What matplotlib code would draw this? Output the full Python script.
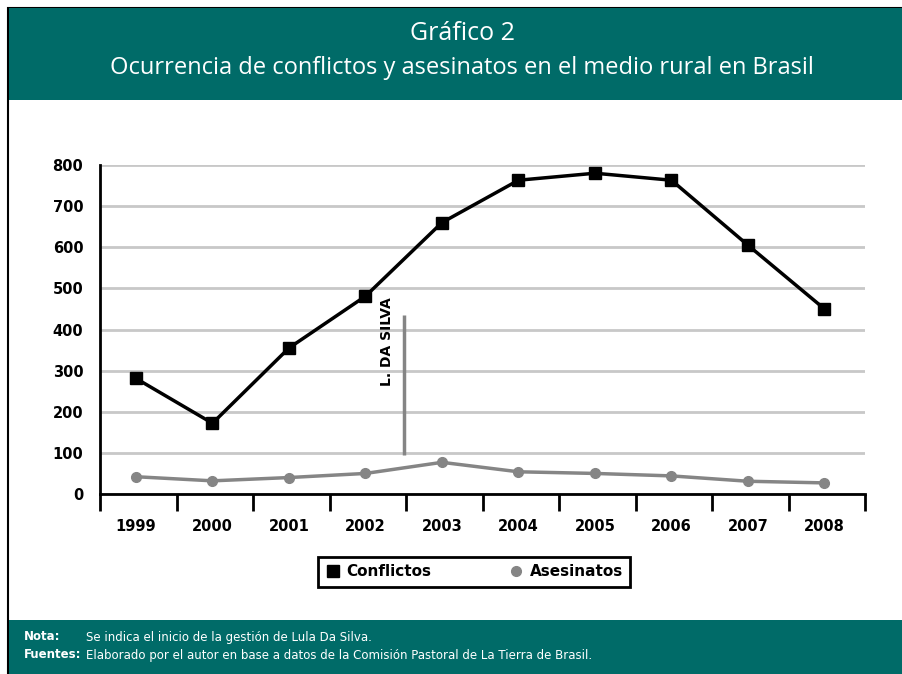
import matplotlib.pyplot as plt
import matplotlib.patches as patches
import numpy as np

years = ['1999', '2000', '2001', '2002', '2003', '2004', '2005', '2006', '2007', '2008']
conflictos = [281, 172, 355, 481, 660, 763, 780, 763, 605, 450]
asesinatos = [42, 32, 40, 50, 77, 54, 50, 44, 31, 27]
marca_pos = 3.5
marca_rango = [95, 435]

teal = '#006b68'
gris = '#858585'

fig = plt.figure(figsize=(9.02, 6.74), dpi=100)

# marco y bandas
fig.patches.append(patches.Rectangle((8 / 902, 0), 1, 1 - 8 / 674, transform=fig.transFigure,
                                     facecolor='white', edgecolor='black', lw=1.5, zorder=-3))
fig.patches.append(patches.Rectangle((9 / 902, 1 - 100 / 674), 1, 92 / 674, transform=fig.transFigure,
                                     facecolor=teal, edgecolor='none', zorder=-2))
fig.patches.append(patches.Rectangle((9 / 902, 0), 1, 54 / 674, transform=fig.transFigure,
                                     facecolor=teal, edgecolor='none', zorder=-2))

fig.text(462 / 902, 1 - 34 / 674, 'Gráfico 2', color='white', fontsize=18,
         family='Open Sans', ha='center', va='center')
fig.text(462 / 902, 1 - 68 / 674, 'Ocurrencia de conflictos y asesinatos en el medio rural en Brasil',
         color='white', fontsize=17, family='Open Sans', ha='center', va='center')

fig.text(24 / 902, 1 - 637 / 674, 'Nota:', color='white', fontsize=8.5, weight='bold', va='center')
fig.text(86 / 902, 1 - 637 / 674, 'Se indica el inicio de la gestión de Lula Da Silva.',
         color='white', fontsize=8.5, va='center')
fig.text(24 / 902, 1 - 655 / 674, 'Fuentes:', color='white', fontsize=8.5, weight='bold', va='center')
fig.text(86 / 902, 1 - 655 / 674,
         'Elaborado por el autor en base a datos de la Comisión Pastoral de La Tierra de Brasil.',
         color='white', fontsize=8.5, va='center')

ax = fig.add_axes([100 / 902, 1 - 494 / 674, 765 / 902, 329 / 674])
ax.patch.set_alpha(0)
x = np.arange(len(years))

ax.plot(x, conflictos, color='black', lw=2.5, marker='s', ms=9, label='Conflictos', zorder=4)
ax.plot(x, asesinatos, color=gris, lw=2.5, marker='o', ms=7, label='Asesinatos', zorder=3)
ax.vlines(marca_pos, marca_rango[0], marca_rango[1], color=gris, lw=2.5, zorder=2)
ax.text(marca_pos - 0.22, 262, 'L. DA SILVA', rotation=90, fontsize=10, weight='bold',
        ha='center', va='bottom')

ax.set_xlim(-0.47, 9.47)
ax.set_ylim(0, 800)
ax.set_yticks(range(0, 801, 100))
ax.yaxis.grid(True, color='#c8c8c8', lw=2)
ax.set_axisbelow(True)
ax.tick_params(axis='y', length=0, pad=12, labelsize=10.5)
for lbl in ax.get_yticklabels():
    lbl.set_fontweight('bold')

ax.set_xticks(x)
ax.set_xticklabels(years, fontsize=10.5, weight='bold')
ax.set_xticks(np.arange(-0.47, 9.6, 1.0), minor=True)
ax.tick_params(axis='x', which='major', length=0, pad=18)
ax.tick_params(axis='x', which='minor', length=12, width=2, direction='out')

for s in ['top', 'right']:
    ax.spines[s].set_visible(False)
ax.spines['left'].set_linewidth(2)
ax.spines['bottom'].set_linewidth(2)

leg = fig.legend(loc='center', bbox_to_anchor=(474 / 902, 1 - 572 / 674), ncol=2,
                 frameon=True, fancybox=False, edgecolor='black', framealpha=1,
                 prop={'weight': 'bold', 'size': 11}, columnspacing=5, handlelength=1.0,
                 handletextpad=0.4, borderpad=0.5, borderaxespad=0)
leg.get_frame().set_linewidth(2)
for h in leg.legend_handles:
    h.set_linestyle('None')

fig.savefig('out.png', dpi=100)
